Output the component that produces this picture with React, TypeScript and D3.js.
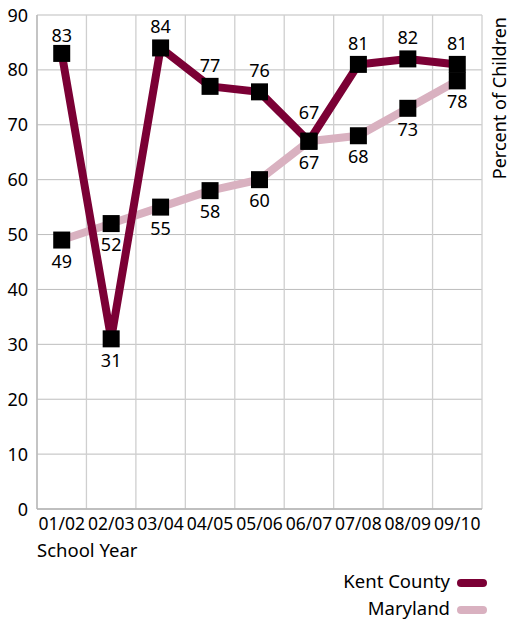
import React from 'react';
import * as d3 from 'd3';

const years = ['01/02', '02/03', '03/04', '04/05', '05/06', '06/07', '07/08', '08/09', '09/10'];
const kentCounty = [83, 31, 84, 77, 76, 67, 81, 82, 81];
const maryland = [49, 52, 55, 58, 60, 67, 68, 73, 78];
// label placement: true = above the marker
const kentAbove = [true, false, true, true, true, true, true, true, true];
const yTicks = [0, 10, 20, 30, 40, 50, 60, 70, 80, 90];

const KENT = '#7b0035';
const MD = '#d9b1c0';
const FONT = '"Noto Sans", "Open Sans", sans-serif';

// small manual nudges so labels clear the crossing lines
const kentNudge: Record<string, number> = { '01/02': 3, '06/07': -8 };

const App = () => {
  const width = 510;
  const height = 620;
  const left = 37, right = 482, top = 15, bottom = 509;

  const x = d3.scaleBand().domain(years).range([left, right]);
  const y = d3.scaleLinear().domain([0, 90]).range([bottom, top]);
  const cx = (yr: string) => (x(yr) as number) + x.bandwidth() / 2;

  const line = d3.line<number>()
    .x((d, i) => cx(years[i]))
    .y(d => y(d));

  const series = [
    { name: 'Maryland', values: maryland, color: MD },
    { name: 'Kent County', values: kentCounty, color: KENT },
  ];

  const bounds = [...years.map(yr => x(yr) as number), right];

  return (
    <svg width={width} height={height} style={{ position: 'absolute', left: 0, top: 0 }}
      fontFamily={FONT}>
      <rect width={width} height={height} fill="white" />
      {/* grid */}
      {yTicks.map(t => (
        <line key={'h' + t} x1={left} x2={right} y1={y(t)} y2={y(t)} stroke="#bdbdbd" strokeWidth={1} />
      ))}
      {bounds.map((b, i) => (
        <line key={'v' + i} x1={b} x2={b} y1={top} y2={bottom} stroke="#cfcfcf" strokeWidth={1.3} />
      ))}
      <line x1={left} x2={left} y1={top} y2={bottom} stroke="#b5b5b5" strokeWidth={1.3} />
      <line x1={left} x2={right} y1={bottom} y2={bottom} stroke="#b5b5b5" strokeWidth={1.3} />

      {/* y tick labels */}
      {yTicks.map(t => (
        <text key={'yt' + t} x={28} y={y(t) + 6.5} textAnchor="end" fontSize={18} fill="#000">{t}</text>
      ))}
      {/* x tick labels */}
      {years.map(yr => (
        <text key={'xt' + yr} x={cx(yr)} y={530} textAnchor="middle" fontSize={17.5} fill="#000">{yr}</text>
      ))}
      <text x={37} y={557} fontSize={18.5} fill="#000">School Year</text>
      <text transform={`translate(506,17) rotate(-90)`} textAnchor="end" fontSize={18} fill="#000">
        Percent of Children
      </text>

      {/* lines */}
      {series.map(s => (
        <path key={s.name} d={line(s.values) || ''} fill="none" stroke={s.color}
          strokeWidth={8} strokeLinejoin="round" />
      ))}
      {/* markers */}
      {series.map(s => s.values.map((v, i) => (
        <rect key={s.name + i} x={cx(years[i]) - 8.5} y={y(v) - 8.5} width={17} height={17} fill="#000" />
      )))}

      {/* value labels */}
      {kentCounty.map((v, i) => (
        <text key={'kl' + i} x={cx(years[i])}
          y={kentAbove[i] ? y(v) - 14.5 + (kentNudge[years[i]] || 0) : y(v) + 28}
          textAnchor="middle" fontSize={18} fill="#000">{v}</text>
      ))}
      {maryland.map((v, i) => (
        <text key={'ml' + i} x={cx(years[i])} y={y(v) + 27.5}
          textAnchor="middle" fontSize={18} fill="#000">{v}</text>
      ))}

      {/* legend */}
      {[{ name: 'Kent County', color: KENT }, { name: 'Maryland', color: MD }].map((s, i) => (
        <g key={s.name} transform={`translate(0,${588 + i * 27})`}>
          <text x={450} y={0} textAnchor="end" fontSize={18.5} fill="#000">{s.name}</text>
          <line x1={461} x2={483} y1={-5} y2={-5} stroke={s.color} strokeWidth={8} strokeLinecap="round" />
        </g>
      ))}
    </svg>
  );
};

export default App;
